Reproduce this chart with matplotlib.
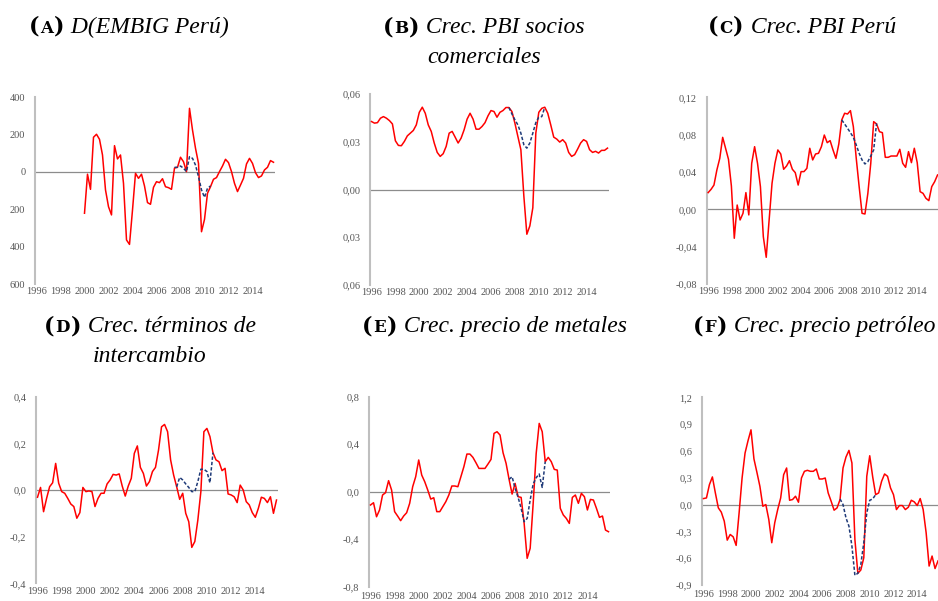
import numpy as np
import matplotlib
matplotlib.use("Agg")
import matplotlib.pyplot as plt
from matplotlib.offsetbox import TextArea, HPacker, VPacker, AnnotationBbox

nan = np.nan
# quarterly categories 1996Q1 .. 2015Q4
quarters = 1996 + np.arange(80) / 4.0
dash_quarters = quarters[46:59]
year_ticks = [1996, 1998, 2000, 2002, 2004, 2006, 2008, 2010, 2012, 2014]
year_labels = [str(y) for y in year_ticks]

# (A) D(EMBIG Peru)
embig = [nan] * 16 + [
    -221, -12, -93, 186, 202, 175, 91, -96, -186, -230, 141, 70, 91, -61, -364, -388,
    -204, -7, -34, -12, -75, -164, -173, -82, -52, -57, -36, -79, -84, -93, 21, 25,
    79, 55, 2, 341, 225, 127, 46, -320, -254, -114, -79, -39, -30, 2, 32, 68,
    50, 2, -61, -105, -70, -34, 43, 73, 46, -4, -30, -21, 11, 25, 61, 52]
embig_alt = [25, 25, 32, 20, 2, 82, 73, 37, -25, -96, -136, -87, -75]

# (B) Crec. PBI socios comerciales
socios = [
    0.0427, 0.0417, 0.0420, 0.0448, 0.0458, 0.0448, 0.0433, 0.0412, 0.0306, 0.0277,
    0.0275, 0.0302, 0.0337, 0.0354, 0.0371, 0.0406, 0.0485, 0.0517, 0.0479, 0.0406,
    0.0365, 0.0292, 0.0233, 0.0208, 0.0225, 0.0271, 0.0354, 0.0365, 0.0329, 0.0292,
    0.0323, 0.0375, 0.0442, 0.0479, 0.0442, 0.0379, 0.0379, 0.0396, 0.0420, 0.0463,
    0.0496, 0.0490, 0.0454, 0.0485, 0.0496, 0.0515, 0.0515, 0.0490, 0.0417, 0.0333,
    0.0250, -0.0042, -0.0281, -0.0229, -0.0115, 0.0354, 0.0485, 0.0510, 0.0517, 0.0479,
    0.0406, 0.0329, 0.0317, 0.0298, 0.0313, 0.0292, 0.0233, 0.0208, 0.0219, 0.0254,
    0.0292, 0.0313, 0.0302, 0.0250, 0.0233, 0.0240, 0.0229, 0.0246, 0.0246, 0.0260]
socios_alt = [0.0515, 0.0475, 0.0438, 0.0406, 0.0354, 0.0281, 0.0260, 0.0292, 0.0354,
              0.0420, 0.0454, 0.0458, 0.0517]

# (C) Crec. PBI Peru
pbi = [
    0.0179, 0.0214, 0.0260, 0.0421, 0.0546, 0.0771, 0.0654, 0.0536, 0.0250, -0.0310,
    0.0046, -0.0114, -0.0043, 0.0179, -0.0060, 0.0493, 0.0671, 0.0493, 0.0243, -0.0293,
    -0.0514, -0.0114, 0.0279, 0.0493, 0.0636, 0.0593, 0.0429, 0.0464, 0.0521, 0.0429,
    0.0393, 0.0260, 0.0404, 0.0404, 0.0439, 0.0654, 0.0529, 0.0593, 0.0600, 0.0671,
    0.0796, 0.0714, 0.0736, 0.0636, 0.0546, 0.0700, 0.0957, 0.1029, 0.1021, 0.1057,
    0.0886, 0.0546, 0.0243, -0.0043, -0.0050, 0.0171, 0.0493, 0.0939, 0.0914, 0.0832,
    0.0821, 0.0557, 0.0557, 0.0571, 0.0571, 0.0571, 0.0643, 0.0493, 0.0450, 0.0618,
    0.0500, 0.0654, 0.0500, 0.0189, 0.0171, 0.0118, 0.0093, 0.0243, 0.0296, 0.0368]
pbi_alt = [0.0957, 0.0914, 0.0868, 0.0821, 0.0771, 0.0689, 0.0600, 0.0529, 0.0486,
           0.0511, 0.0571, 0.0636, 0.0921]

# (D) Crec. terminos de intercambio
terminos = [
    -0.031, 0.011, -0.093, -0.036, 0.014, 0.031, 0.114, 0.029, -0.007, -0.014,
    -0.036, -0.060, -0.071, -0.121, -0.097, 0.011, -0.007, -0.004, -0.007, -0.071,
    -0.036, -0.014, -0.014, 0.026, 0.043, 0.067, 0.064, 0.069, 0.017, -0.026,
    0.017, 0.050, 0.157, 0.189, 0.097, 0.071, 0.017, 0.036, 0.079, 0.097,
    0.171, 0.271, 0.281, 0.250, 0.129, 0.064, 0.014, -0.040, -0.014, -0.100,
    -0.136, -0.246, -0.221, -0.129, -0.007, 0.250, 0.264, 0.229, 0.160, 0.129,
    0.121, 0.083, 0.093, -0.017, -0.021, -0.029, -0.054, 0.021, 0.000, -0.050,
    -0.064, -0.097, -0.117, -0.079, -0.031, -0.036, -0.054, -0.029, -0.100, -0.043]
terminos_alt = [0.014, 0.054, 0.043, 0.026, 0.011, -0.007, -0.007, 0.036, 0.089,
                0.089, 0.079, 0.031, 0.160]

# (E) Crec. precio de metales
metales = [
    -0.112, -0.093, -0.211, -0.154, -0.028, -0.008, 0.093, 0.014, -0.168, -0.205,
    -0.244, -0.205, -0.177, -0.098, 0.042, 0.126, 0.267, 0.140, 0.084, 0.014,
    -0.062, -0.051, -0.168, -0.168, -0.126, -0.084, -0.028, 0.048, 0.048, 0.042,
    0.126, 0.211, 0.317, 0.317, 0.289, 0.244, 0.196, 0.196, 0.196, 0.233,
    0.272, 0.491, 0.505, 0.477, 0.328, 0.239, 0.104, -0.020, 0.070, -0.042,
    -0.048, -0.267, -0.561, -0.477, -0.098, 0.323, 0.575, 0.505, 0.253, 0.289,
    0.253, 0.188, 0.182, -0.140, -0.196, -0.225, -0.267, -0.048, -0.028, -0.098,
    -0.014, -0.042, -0.154, -0.065, -0.070, -0.140, -0.216, -0.205, -0.323, -0.337]
metales_alt = [0.104, 0.126, 0.028, -0.048, -0.140, -0.253, -0.225, -0.070, 0.065,
               0.118, 0.149, 0.036, 0.253]

# (F) Crec. precio petroleo
petroleo = [
    0.067, 0.074, 0.223, 0.309, 0.130, -0.037, -0.085, -0.186, -0.398, -0.335,
    -0.361, -0.457, -0.093, 0.297, 0.576, 0.714, 0.836, 0.510, 0.360, 0.204,
    -0.019, 0.000, -0.167, -0.427, -0.204, -0.056, 0.074, 0.334, 0.409, 0.048,
    0.056, 0.093, 0.026, 0.297, 0.372, 0.383, 0.372, 0.372, 0.398, 0.286,
    0.286, 0.297, 0.130, 0.037, -0.063, -0.037, 0.056, 0.409, 0.532, 0.606,
    0.465, -0.390, -0.769, -0.732, -0.595, 0.316, 0.546, 0.309, 0.111, 0.130,
    0.260, 0.342, 0.316, 0.186, 0.111, -0.056, -0.011, -0.011, -0.056, -0.030,
    0.048, 0.030, -0.011, 0.067, -0.056, -0.316, -0.688, -0.576, -0.716, -0.630]
petroleo_alt = [0.063, 0.000, -0.149, -0.242, -0.465, -0.792, -0.769, -0.669, -0.427,
                -0.093, 0.048, 0.063, 0.111]

yt_a = [-600, -400, -200, 0, 200, 400]
yl_a = ["600", "400", "200", "0", "200", "400"]
yt_b = [-0.06, -0.03, 0.0, 0.03, 0.06]
yl_b = ["0,06", "0,03", "0,00", "0,03", "0,06"]
yt_c = [-0.08, -0.04, 0.0, 0.04, 0.08, 0.12]
yl_c = ["-0,08", "-0,04", "0,00", "0,04", "0,08", "0,12"]
yt_d = [-0.4, -0.2, 0.0, 0.2, 0.4]
yl_d = ["-0,4", "-0,2", "0,0", "0,2", "0,4"]
yt_e = [-0.8, -0.4, 0.0, 0.4, 0.8]
yl_e = ["-0,8", "-0,4", "0,0", "0,4", "0,8"]
yt_f = [-0.9, -0.6, -0.3, 0.0, 0.3, 0.6, 0.9, 1.2]
yl_f = ["-0,9", "-0,6", "-0,3", "0,0", "0,3", "0,6", "0,9", "1,2"]

W, H = 938, 601
fig = plt.figure(figsize=(W / 100, H / 100), dpi=100)
fig.patch.set_facecolor("white")

SERIF = ["Liberation Serif", "DejaVu Serif"]

panels = [
    # (left, top, right, bottom) in px, series, alt, yticks, ylabels, xlabel pad
    ((35, 97.3, 275, 284), embig, embig_alt, yt_a, yl_a, 2.5),
    ((370, 94, 609, 285), socios, socios_alt, yt_b, yl_b, 2.5),
    ((706.7, 97.3, 939, 284), pbi, pbi_alt, yt_c, yl_c, 2.5),
    ((36, 396.7, 278, 583.3), terminos, terminos_alt, yt_d, yl_d, 2.5),
    ((369, 396.7, 610, 586.7), metales, metales_alt, yt_e, yl_e, 4.0),
    ((702, 397.3, 939.5, 585), petroleo, petroleo_alt, yt_f, yl_f, 3.5),
]

for (l, t, r, b), ser, alt, yt, yl, xpad in panels:
    ax = fig.add_axes([l / W, (H - b) / H, (r - l) / W, (b - t) / H])
    ax.set_facecolor("none")
    ax.axhline(0, color="#8C8C8C", lw=0.9, zorder=1)
    ax.plot(quarters, ser, color="#FF0000", lw=1.1, zorder=3)
    ax.plot(dash_quarters, alt, color="#1F3A78", lw=1.1, ls=(0, (2.2, 1.3)), zorder=4)
    ax.set_xlim(1996 - 0.125, 2015.875)
    ax.set_ylim(yt[0], yt[-1])
    ax.set_yticks(yt)
    ax.set_yticklabels(yl)
    ax.set_xticks(year_ticks)
    ax.set_xticklabels(year_labels)
    for s in ("top", "right", "bottom"):
        ax.spines[s].set_visible(False)
    ax.spines["left"].set_color("#BFBFBF")
    ax.spines["left"].set_linewidth(1.5)
    ax.tick_params(axis="both", length=0, labelsize=7.5, labelcolor="#555555")
    ax.tick_params(axis="y", pad=7)
    ax.tick_params(axis="x", pad=xpad)
    for lab in ax.get_xticklabels() + ax.get_yticklabels():
        lab.set_fontfamily(SERIF)


def add_title(letter, line1, line2, cx, cy):
    bold = dict(family=["DejaVu Serif"], weight="bold", size=16, color="black")
    small = dict(family=["DejaVu Serif"], weight="bold", size=12, color="black")
    ital = dict(family=SERIF, style="italic", size=17, color="black")
    row = HPacker(children=[TextArea("(", textprops=bold),
                            TextArea(letter, textprops=small),
                            TextArea(")", textprops=bold),
                            TextArea(" " + line1, textprops=ital)],
                  align="baseline", pad=0, sep=0.5)
    box = row
    if line2:
        box = VPacker(children=[row, TextArea(line2, textprops=ital)],
                      align="center", pad=0, sep=6)
    ab = AnnotationBbox(box, (cx / W, 1 - cy / H), xycoords="figure fraction",
                        frameon=False, box_alignment=(0.5, 0.5), pad=0)
    fig.add_artist(ab)


add_title("A", "D(EMBIG Perú)", None, 128.5, 27)
add_title("B", "Crec. PBI socios", "comerciales", 484, 42)
add_title("C", "Crec. PBI Perú", None, 802, 27)
add_title("D", "Crec. términos de", "intercambio", 150, 341)
add_title("E", "Crec. precio de metales", None, 494.5, 326)
add_title("F", "Crec. precio petróleo", None, 814, 326)

fig.savefig("out.png", dpi=100, facecolor="white")
